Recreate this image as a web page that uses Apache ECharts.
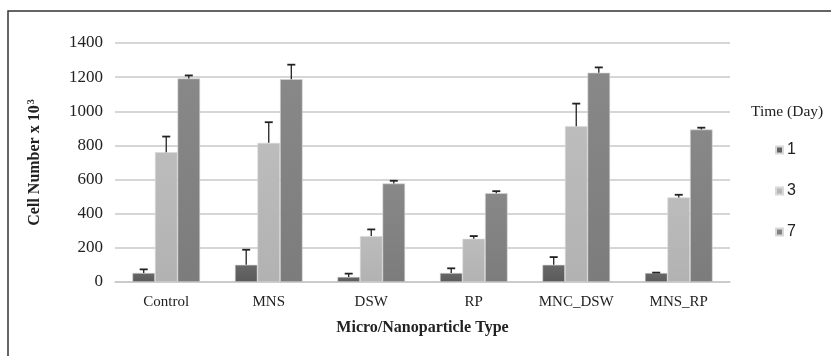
<!DOCTYPE html>
<html><head><meta charset="utf-8">
<script src="https://cdn.jsdelivr.net/npm/echarts@6/dist/echarts.min.js"></script>
<style>html,body{margin:0;padding:0;background:#fff}#c{width:831px;height:356px}</style>
</head><body><div id="c"></div>
<script>
var categories = ['Control', 'MNS', 'DSW', 'RP', 'MNC_DSW', 'MNS_RP'];
var seriesNames = ['1', '3', '7'];
var day1 = [53, 101, 30, 53, 101, 53];
var day3 = [760, 815, 269, 253, 912, 495];
var day7 = [1192, 1188, 577, 520, 1226, 893];
var err1 = [74, 189, 49, 80, 146, 55];
var err3 = [852, 936, 308, 269, 1045, 511];
var err7 = [1210, 1273, 593, 532, 1257, 904];
var yTicks = [0, 200, 400, 600, 800, 1000, 1200, 1400];

var values = [day1, day3, day7];
var errs = [err1, err3, err7];
var colors = ['#5a5a5a', '#b2b2b2', '#7c7c7c'];
var colorsTop = ['#686868', '#bcbcbc', '#888888'];
var catGap = 0.34;

var errData = [];
for (var s = 0; s < 3; s++) for (var i = 0; i < categories.length; i++) errData.push([i, s, values[s][i], errs[s][i]]);

var serif = '"Liberation Serif","Times New Roman",serif';
var chart = echarts.init(document.getElementById('c'));
var series = seriesNames.map(function (n, s) {
  return {
    name: n, type: 'bar', data: values[s], barGap: 0, barCategoryGap: (catGap * 100) + '%',
    itemStyle: {
      color: new echarts.graphic.LinearGradient(0, 0, 0, 1, [{offset: 0, color: colorsTop[s]}, {offset: 1, color: colors[s]}]),
      borderColor: '#d8d8d8', borderWidth: 0.6
    }
  };
});
series.push({
  type: 'custom', data: errData, z: 5, silent: true,
  encode: {x: 0, y: 2},
  renderItem: function (params, api) {
    var ci = api.value(0), si = api.value(1);
    var band = api.size([1, 0])[0];
    var bw = band * (1 - catGap) / 3;
    var base = api.coord([ci, api.value(2)]);
    var top = api.coord([ci, api.value(3)]);
    var x = base[0] + (si - 1) * bw;
    var st = {stroke: '#222', lineWidth: 1.3};
    return {type: 'group', children: [
      {type: 'line', shape: {x1: x, y1: base[1], x2: x, y2: top[1]}, style: st},
      {type: 'line', shape: {x1: x - 4, y1: top[1], x2: x + 4, y2: top[1]}, style: {stroke: '#222', lineWidth: 1.8}}
    ]};
  }
});

chart.setOption({
  animation: false,
  backgroundColor: '#fff',
  grid: {left: 115, right: 101, top: 43, bottom: 74},
  legend: {
    orient: 'vertical', left: 770, top: 137, itemWidth: 7, itemHeight: 7, itemGap: 25,
    icon: 'rect', data: seriesNames,
    textStyle: {fontFamily: '"Liberation Sans",Arial,sans-serif', fontSize: 16, color: '#222', padding: [0, 0, 0, -1]}
  },
  xAxis: {
    type: 'category', data: categories,
    axisLine: {lineStyle: {color: '#c8c8c8', width: 1.5}},
    axisTick: {show: false},
    axisLabel: {fontFamily: serif, fontSize: 15, color: '#222', margin: 13},
    name: 'Micro/Nanoparticle Type', nameLocation: 'middle', nameGap: 38,
    nameTextStyle: {fontFamily: serif, fontSize: 16, fontWeight: 'bold', color: '#222'}
  },
  yAxis: {
    type: 'value', min: 0, max: 1400, interval: 200,
    axisLine: {show: false}, axisTick: {show: false},
    splitLine: {lineStyle: {color: '#c8c8c8', width: 1.5}},
    axisLabel: {fontFamily: serif, fontSize: 17, color: '#222', margin: 12,
      formatter: function (v) { return yTicks.indexOf(v) >= 0 ? String(v) : ''; }},
    name: 'Cell Number x 10{sup|3}', nameLocation: 'middle', nameGap: 72, nameRotate: 90,
    nameTextStyle: {fontFamily: serif, fontSize: 16, fontWeight: 'bold', color: '#222',
      rich: {sup: {fontFamily: serif, fontSize: 10, fontWeight: 'bold', color: '#222', verticalAlign: 'top', padding: [0, 0, 7, 1]}}}
  },
  graphic: [
    {type: 'rect', shape: {x: 8, y: 11, width: 900, height: 500}, style: {fill: 'none', stroke: '#333', lineWidth: 1.5}, silent: true},
    {type: 'text', left: 751, top: 104, style: {text: 'Time (Day)', font: '15.5px ' + serif, fill: '#222'}}
  ],
  series: series
});
</script></body></html>
